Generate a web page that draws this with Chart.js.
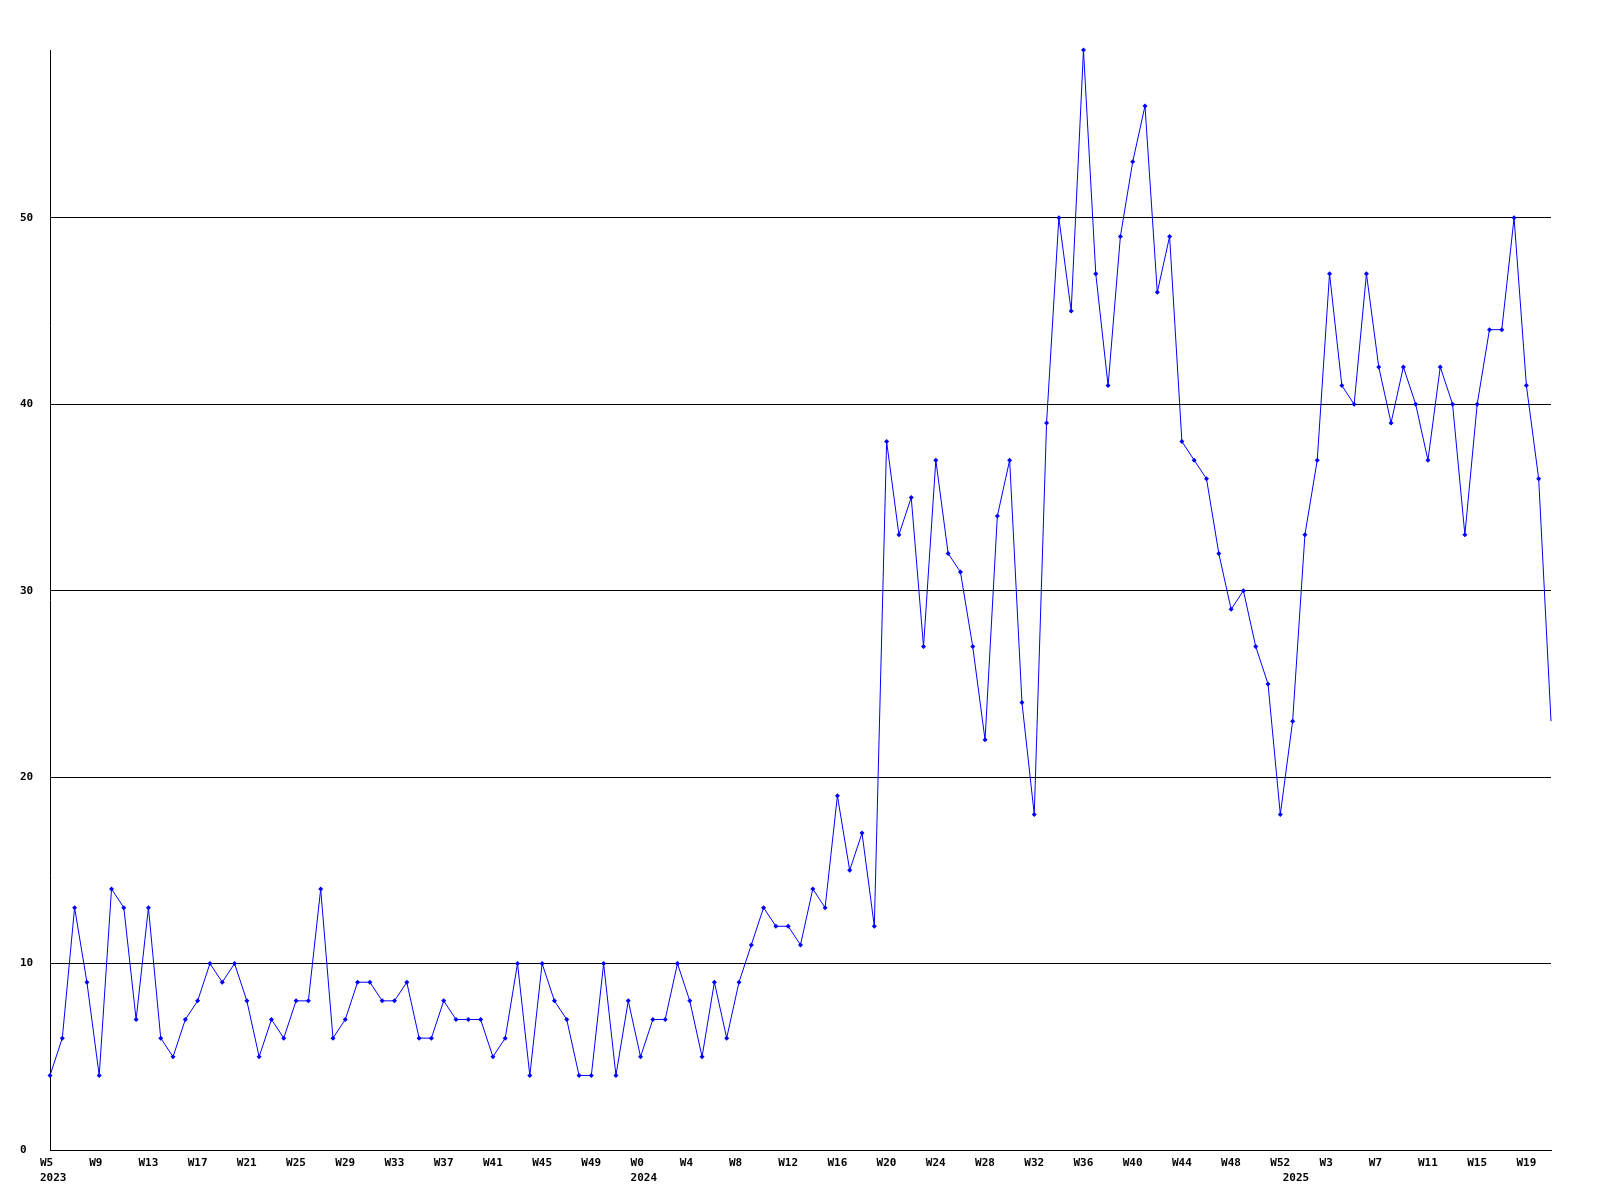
<!DOCTYPE html>
<html>
<head>
<meta charset="utf-8">
<script src="https://cdn.jsdelivr.net/npm/chart.js@4.4.1/dist/chart.umd.min.js"></script>
<style>
  html, body { margin: 0; padding: 0; background: #fff; }
  #grafico { display: block; }
</style>
</head>
<body>
<canvas id="grafico" width="1600" height="1200"></canvas>
<script>
// semanas por año (la primera semana de cada año lleva el año debajo)
const years = ['2023', '2024', '2025'];
const weeks2023 = [5, 6, 7, 8, 9, 10, 11, 12, 13, 14, 15, 16, 17, 18, 19, 20, 21, 22, 23, 24,
    25, 26, 27, 28, 29, 30, 31, 32, 33, 34, 35, 36, 37, 38, 39, 40, 41, 42, 43, 44,
    45, 46, 47, 48, 49, 50, 51, 52];
const weeks2024 = [0, 1, 2, 3, 4, 5, 6, 7, 8, 9, 10, 11, 12, 13, 14, 15, 16, 17, 18, 19,
    20, 21, 22, 23, 24, 25, 26, 27, 28, 29, 30, 31, 32, 33, 34, 35, 36, 37, 38, 39,
    40, 41, 42, 43, 44, 45, 46, 47, 48, 49, 50, 51, 52];
const weeks2025 = [0, 1, 2, 3, 4, 5, 6, 7, 8, 9, 10, 11, 12, 13, 14, 15, 16, 17, 18, 19,
    20, 21];

const valores = [
    4, 6, 13, 9, 4, 14, 13, 7, 13, 6, 5, 7, 8, 10, 9, 10, 8, 5, 7, 6,
    8, 8, 14, 6, 7, 9, 9, 8, 8, 9, 6, 6, 8, 7, 7, 7, 5, 6, 10, 4,
    10, 8, 7, 4, 4, 10, 4, 8, 5, 7, 7, 10, 8, 5, 9, 6, 9, 11, 13, 12,
    12, 11, 14, 13, 19, 15, 17, 12, 38, 33, 35, 27, 37, 32, 31, 27, 22, 34, 37, 24,
    18, 39, 50, 45, 59, 47, 41, 49, 53, 56, 46, 49, 38, 37, 36, 32, 29, 30, 27, 25,
    18, 23, 33, 37, 47, 41, 40, 47, 42, 39, 42, 40, 37, 42, 40, 33, 40, 44, 44, 50,
    41, 36, 23
];

const yTicks = [0, 10, 20, 30, 40, 50];
const yMax = 59;

// etiquetas de categoria
const semanas = [];
[weeks2023, weeks2024, weeks2025].forEach((lista, i) => {
    lista.forEach((w, j) => {
        semanas.push({ week: 'W' + w, year: j === 0 ? years[i] : '' });
    });
});
const categorias = semanas.map(s => s.week + (s.year ? ' ' + s.year : ''));

const fuente = { family: "'DejaVu Sans Mono', monospace", size: 11, weight: 'bold', lineHeight: 1.42 };

const ctx = document.getElementById('grafico').getContext('2d');
new Chart(ctx, {
    type: 'line',
    data: {
        labels: categorias,
        datasets: [{
            data: valores,
            borderColor: '#0000ff',
            backgroundColor: '#0000ff',
            borderWidth: 1,
            tension: 0,
            fill: false,
            clip: false,
            pointStyle: 'rectRot',
            pointRadius: c => c.dataIndex === valores.length - 1 ? 0 : 2.5,
            pointBorderWidth: 0,
            pointBackgroundColor: '#0000ff'
        }]
    },
    options: {
        responsive: false,
        animation: false,
        events: [],
        layout: { padding: { left: 20, right: 49, top: 50, bottom: 0 } },
        plugins: {
            legend: { display: false },
            tooltip: { enabled: false }
        },
        scales: {
            x: {
                offset: false,
                grid: { display: false },
                border: { display: true, color: '#000', width: 1 },
                afterFit: s => { s.height = 50; },
                ticks: {
                    autoSkip: false,
                    maxRotation: 0,
                    minRotation: 0,
                    align: 'start',
                    labelOffset: -10,
                    padding: -3,
                    color: '#000',
                    font: fuente,
                    callback: (v, i) => {
                        const s = semanas[i];
                        const w = i % 4 === 0 ? s.week : '';
                        if (s.year) return [w, s.year];
                        return w;
                    }
                }
            },
            y: {
                min: 0,
                max: yMax,
                afterFit: s => { s.width = 30; },
                afterBuildTicks: s => { s.ticks = yTicks.map(v => ({ value: v })); },
                grid: { color: '#000', lineWidth: 1, drawTicks: false },
                border: { display: true, color: '#000', width: 1 },
                ticks: {
                    includeBounds: false,
                    crossAlign: 'far',
                    padding: 0,
                    color: '#000',
                    font: fuente,
                    callback: v => String(v)
                }
            }
        }
    }
});
</script>
</body>
</html>
